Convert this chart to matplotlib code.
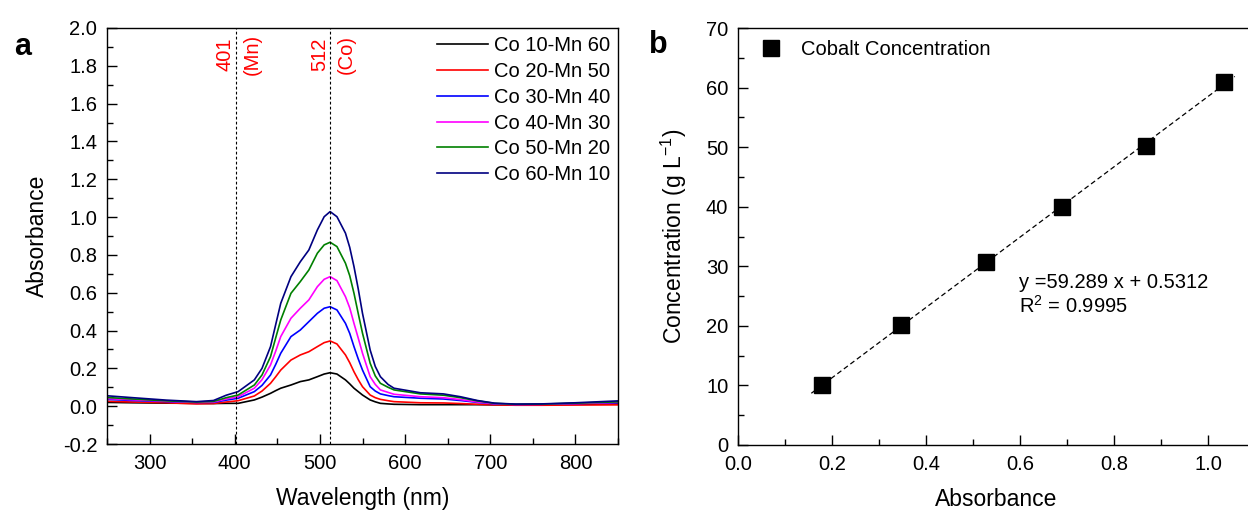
import matplotlib
matplotlib.use("Agg")
import matplotlib.pyplot as plt
import numpy as np
from matplotlib.ticker import MultipleLocator

plt.rcParams['font.family'] = ['Liberation Sans', 'DejaVu Sans']

# ---- panel a : UV-vis spectra
wavelength = [250, 280, 320, 355, 375, 390, 404, 423, 432, 442, 448, 454, 466, 477, 487, 497, 505, 512,
              520, 530, 535, 540, 545, 550, 559, 565, 571, 580, 587, 618, 645, 665, 685, 705, 730, 760, 800, 850]
co10_mn60 = [0.020, 0.018, 0.016, 0.015, 0.014, 0.015, 0.015, 0.033, 0.048, 0.068, 0.082, 0.095, 0.112, 0.130, 0.139, 0.156, 0.170, 0.177,
             0.170, 0.139, 0.118, 0.095, 0.077, 0.059, 0.033, 0.023, 0.015, 0.012, 0.010, 0.008, 0.008, 0.008, 0.008, 0.007, 0.007, 0.008, 0.010, 0.012]
co20_mn50 = [0.026, 0.022, 0.018, 0.012, 0.014, 0.022, 0.029, 0.054, 0.080, 0.121, 0.155, 0.191, 0.244, 0.271, 0.288, 0.315, 0.336, 0.345,
             0.329, 0.271, 0.230, 0.182, 0.140, 0.103, 0.059, 0.045, 0.036, 0.029, 0.024, 0.018, 0.017, 0.014, 0.010, 0.007, 0.005, 0.005, 0.006, 0.007]
co30_mn40 = [0.036, 0.030, 0.024, 0.020, 0.020, 0.032, 0.042, 0.077, 0.110, 0.165, 0.220, 0.280, 0.368, 0.403, 0.447, 0.491, 0.518, 0.526,
             0.509, 0.438, 0.385, 0.315, 0.250, 0.191, 0.103, 0.080, 0.065, 0.056, 0.050, 0.042, 0.038, 0.030, 0.020, 0.012, 0.009, 0.010, 0.014, 0.018]
co40_mn30 = [0.040, 0.034, 0.026, 0.020, 0.022, 0.038, 0.050, 0.095, 0.140, 0.218, 0.290, 0.368, 0.465, 0.518, 0.562, 0.632, 0.671, 0.685,
             0.664, 0.579, 0.520, 0.438, 0.360, 0.280, 0.156, 0.115, 0.086, 0.073, 0.063, 0.050, 0.045, 0.035, 0.022, 0.013, 0.009, 0.010, 0.014, 0.020]
co50_mn20 = [0.046, 0.038, 0.028, 0.022, 0.025, 0.045, 0.059, 0.112, 0.165, 0.262, 0.360, 0.456, 0.597, 0.659, 0.720, 0.809, 0.853, 0.867,
             0.844, 0.756, 0.690, 0.597, 0.490, 0.386, 0.227, 0.160, 0.121, 0.100, 0.086, 0.065, 0.058, 0.045, 0.028, 0.015, 0.010, 0.011, 0.016, 0.023]
co60_mn10 = [0.055, 0.045, 0.032, 0.024, 0.030, 0.058, 0.077, 0.139, 0.200, 0.315, 0.430, 0.544, 0.685, 0.764, 0.826, 0.932, 1.002, 1.029,
             1.002, 0.915, 0.840, 0.738, 0.620, 0.491, 0.297, 0.210, 0.156, 0.115, 0.095, 0.071, 0.065, 0.050, 0.030, 0.016, 0.011, 0.012, 0.018, 0.028]
spectra = [co10_mn60, co20_mn50, co30_mn40, co40_mn30, co50_mn20, co60_mn10]
labels = ["Co 10-Mn 60", "Co 20-Mn 50", "Co 30-Mn 40", "Co 40-Mn 30", "Co 50-Mn 20", "Co 60-Mn 10"]
colors = ["#000000", "#ff0000", "#0000ff", "#ff00ff", "#008000", "#000080"]
peaks = [401, 512]
peak_names = ["(Mn)", "(Co)"]

# ---- panel b : calibration
absorbance = [0.178, 0.347, 0.528, 0.689, 0.869, 1.034]
concentration = [10.0, 20.1, 30.7, 40.0, 50.2, 61.0]

fs = 14.5
W, H = 1248, 512
fig = plt.figure(figsize=(12.48, 5.12), dpi=100)
ax1 = fig.add_axes([107/W, 68/H, 511/W, 416/H])
ax2 = fig.add_axes([738/W, 67/H, 517/W, 417/H])

for y, lab, c in zip(spectra, labels, colors):
    ax1.plot(wavelength, y, color=c, lw=1.2, label=lab)
for p, name in zip(peaks, peak_names):
    ax1.axvline(p, color='k', lw=0.8, ls=(0, (2.5, 2)))
    ax1.text(p - 12, 1.86, str(p), color='red', rotation=90, ha='center', va='center', fontsize=fs)
    ax1.text(p + 19, 1.86, name, color='red', rotation=90, ha='center', va='center', fontsize=fs)

ax1.set_xlim(250, 850)
ax1.set_ylim(-0.2, 2.0)
ax1.set_xticks([300, 400, 500, 600, 700, 800])
ax1.xaxis.set_minor_locator(MultipleLocator(50))
ax1.yaxis.set_major_locator(MultipleLocator(0.2))
ax1.yaxis.set_minor_locator(MultipleLocator(0.1))
ax1.yaxis.set_major_formatter(matplotlib.ticker.FormatStrFormatter('%.1f'))
ax1.set_xlabel("Wavelength (nm)", fontsize=16.5, labelpad=10)
ax1.set_ylabel("Absorbance", fontsize=16.5, labelpad=10)
ax1.legend(loc='upper right', frameon=False, fontsize=fs, handlelength=2.5, handletextpad=0.3,
           labelspacing=0.34, borderaxespad=0.2, borderpad=0.2)
fig.text(23/W, 1 - 47/H, "a", fontsize=22, fontweight='bold', ha='center', va='center')

# calibration line from least squares on the points
k, b0 = np.polyfit(absorbance, concentration, 1)
xf = np.array([0.156, 1.057])
ax2.plot(xf, k*xf + b0, color='k', lw=0.9, ls=(0, (4, 2.5)))
ax2.plot(absorbance, concentration, 's', color='k', ms=11, label="Cobalt Concentration")
ax2.text(1019/W, 1 - 283/H, "y =59.289 x + 0.5312", transform=fig.transFigure, fontsize=fs, va='center')
ax2.text(1019/W, 1 - 306/H, "R$^{\\mathregular{2}}$ = 0.9995", transform=fig.transFigure, fontsize=fs, va='center')
ax2.set_xlim(0, 1.1)
ax2.set_ylim(0, 70)
ax2.set_xticks([0.0, 0.2, 0.4, 0.6, 0.8, 1.0])
ax2.xaxis.set_minor_locator(MultipleLocator(0.1))
ax2.yaxis.set_major_locator(MultipleLocator(10))
ax2.yaxis.set_minor_locator(MultipleLocator(5))
ax2.xaxis.set_major_formatter(matplotlib.ticker.FormatStrFormatter('%.1f'))
ax2.set_xlabel("Absorbance", fontsize=16.5, labelpad=10)
ax2.set_ylabel("Concentration (g L$^{\\mathregular{-1}}$)", fontsize=16.5, labelpad=12)
ax2.legend(loc='upper left', bbox_to_anchor=(11/517, 1.0), frameon=False, fontsize=fs,
           handlelength=1.0, handletextpad=1.0, borderaxespad=0.3, borderpad=0.3)
fig.text(658/W, 1 - 45/H, "b", fontsize=22, fontweight='bold', ha='center', va='center')

for ax in (ax1, ax2):
    for s in ax.spines.values():
        s.set_linewidth(1.0)
    ax.tick_params(which='both', direction='in', top=False, right=False, labelsize=fs, width=1.0)
    ax.tick_params(which='major', length=7, pad=7)
    ax.tick_params(which='minor', length=4)

fig.savefig("out.png", dpi=100)
